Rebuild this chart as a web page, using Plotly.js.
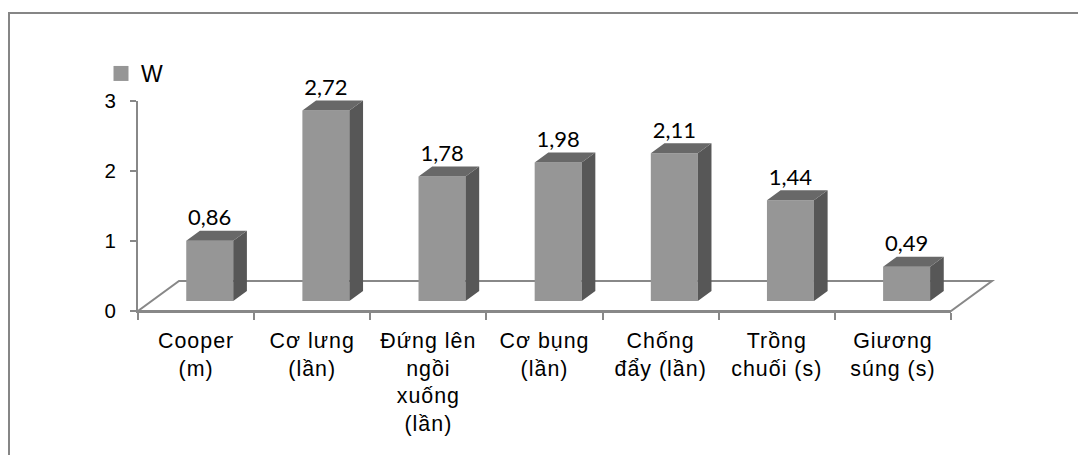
<!DOCTYPE html>
<html>
<head>
<meta charset="utf-8">
<script src="https://cdn.plot.ly/plotly-3.0.1.min.js"></script>
<style>
  html, body { margin: 0; padding: 0; background: #fff; }
  #chart { width: 1078px; height: 455px; }
  .xtick text { letter-spacing: 1px; }
</style>
</head>
<body>
<div id="chart"></div>
<script>
// Test categories and the mean score W for each one
const categories = [
  'Cooper<br>(m)',
  'Cơ lưng<br>(lần)',
  'Đứng lên<br>ngồi<br>xuống<br>(lần)',
  'Cơ bụng<br>(lần)',
  'Chống<br>đẩy (lần)',
  'Trồng<br>chuối (s)',
  'Giương<br>súng (s)'
];
const seriesName = 'W';
const values = [0.86, 2.72, 1.78, 1.98, 2.11, 1.44, 0.49];
const yTicks = [0, 1, 2, 3];

// ---- page geometry (pixels) ----
const W = 1078, H = 455;
const axLeft = 138, axRight = 951;      // front x axis
const yZero = 311, yTop = 101;          // front value axis: 0 .. 3
const nCat = categories.length;
const pxCat = (axRight - axLeft) / nCat;
const pxVal = (yZero - yTop) / 3;
const depthPx = { x: 41, y: 30 };       // floor depth (oblique projection)
const barPx = 47;                       // bar width

// depth in axis units
const DX = depthPx.x / pxCat, DY = depthPx.y / pxVal;
const FX = DX / 3, FY = DY / 3;         // bar front plane
const BX = 2 * DX / 3, BY = 2 * DY / 3; // bar back plane
const BW = barPx / pxCat;

// geometry subplot spans the floor's full depth and the label headroom
const x2End = nCat - 0.5 + (depthPx.x + 6) / pxCat;
const x2RightPx = axLeft + (x2End + 0.5) * pxCat;
const y2Pad = 4;
const y2TopPx = 30;
const y2Max = 3 + (yTop - y2TopPx) / pxVal;

const idx = values.map((_, i) => i);

// top and side faces as closed polygons
const topX = [], topY = [], sideX = [], sideY = [];
idx.forEach(i => {
  const v = values[i];
  const l = i + FX - BW / 2, r = i + FX + BW / 2;
  topX.push(l, r, r - FX + BX, l - FX + BX, l, null);
  topY.push(FY + v, FY + v, BY + v, BY + v, FY + v, null);
  sideX.push(r, r, r - FX + BX, r - FX + BX, r, null);
  sideY.push(FY, FY + v, BY + v, BY, FY, null);
});

const frontColor = '#969696';
const axisGrey = '#888888';
const fontAxis = 'Arial, "Liberation Sans", sans-serif';

const traces = [
  { // anchors the category axis
    type: 'scatter', x: categories, y: values.map(() => 0),
    xaxis: 'x', yaxis: 'y', mode: 'markers',
    marker: { opacity: 0 }, showlegend: false, hoverinfo: 'skip'
  },
  { // front faces
    type: 'bar', x: idx.map(i => i + FX), y: values, base: FY,
    width: BW, xaxis: 'x2', yaxis: 'y2', name: seriesName,
    marker: { color: frontColor, line: { width: 0 } },
    showlegend: false, hoverinfo: 'skip'
  },
  {
    type: 'scatter', x: sideX, y: sideY, xaxis: 'x2', yaxis: 'y2',
    mode: 'lines', fill: 'toself', fillcolor: '#575757',
    line: { width: 0, color: '#575757' }, showlegend: false, hoverinfo: 'skip'
  },
  {
    type: 'scatter', x: topX, y: topY, xaxis: 'x2', yaxis: 'y2',
    mode: 'lines', fill: 'toself', fillcolor: '#686868',
    line: { width: 0, color: '#686868' }, showlegend: false, hoverinfo: 'skip'
  },
  { // value labels
    type: 'scatter', x: idx.map(i => i + FX), y: values.map(v => v + BY),
    customdata: values, texttemplate: '%{customdata:.2f}',
    xaxis: 'x2', yaxis: 'y2', mode: 'text', textposition: 'top center',
    textfont: { family: 'Lato, "Open Sans", sans-serif', size: 22, color: '#000' },
    cliponaxis: false, showlegend: false, hoverinfo: 'skip'
  },
  { // legend key for the series
    type: 'scatter', x: [null], y: [null], xaxis: 'x2', yaxis: 'y2',
    mode: 'markers', name: seriesName,
    marker: { symbol: 'square', size: 15, color: frontColor, line: { width: 0 } },
    showlegend: true, hoverinfo: 'skip'
  }
];

// floor outline (drawn beneath the bars)
const fl = [
  [-0.5, 0], [nCat - 0.5, 0], [nCat - 0.5 + DX, DY], [-0.5 + DX, DY], [-0.5, 0]
];
const floorPath = fl.map((p, k) => (k ? 'L' : 'M') + p[0] + ',' + p[1]).join(' ');

const layout = {
  width: W, height: H,
  margin: { l: 0, r: 0, t: 0, b: 0 },
  paper_bgcolor: '#ffffff',
  plot_bgcolor: 'rgba(0,0,0,0)',
  separators: ', ',
  showlegend: true,
  legend: {
    x: 101 / W, y: 1 - 52 / H, xanchor: 'left', yanchor: 'top',
    font: { family: fontAxis, size: 23, color: '#000' },
    bgcolor: 'rgba(0,0,0,0)'
  },
  xaxis: {
    type: 'category', categoryarray: categories, range: [-0.5, nCat - 0.5],
    domain: [axLeft / W, axRight / W], anchor: 'y',
    showline: true, linecolor: axisGrey, linewidth: 2,
    ticks: 'outside', tickson: 'boundaries', ticklen: 7, tickwidth: 2, tickcolor: axisGrey,
    showgrid: false, zeroline: false, fixedrange: true,
    tickfont: { family: fontAxis, size: 21.4, color: '#000' },
    ticklabelstandoff: 9
  },
  yaxis: {
    range: [0, 3], domain: [(H - yZero) / H, (H - yTop) / H], anchor: 'x',
    tickvals: yTicks, ticktext: yTicks.map(String),
    showline: true, linecolor: axisGrey, linewidth: 2,
    ticks: 'outside', ticklen: 6, tickwidth: 2, tickcolor: axisGrey,
    showgrid: false, zeroline: false, fixedrange: true,
    tickfont: { family: fontAxis, size: 20.5, color: '#000' },
    ticklabelstandoff: 10
  },
  xaxis2: {
    range: [-0.5, x2End], domain: [axLeft / W, x2RightPx / W], anchor: 'y2',
    visible: false, fixedrange: true
  },
  yaxis2: {
    range: [-y2Pad / pxVal, y2Max], domain: [(H - yZero - y2Pad) / H, (H - y2TopPx) / H],
    anchor: 'x2', visible: false, fixedrange: true
  },
  shapes: [
    {
      type: 'path', xref: 'x2', yref: 'y2', layer: 'below',
      path: floorPath, line: { color: axisGrey, width: 2 }
    },
    { // chart area border
      type: 'rect', xref: 'paper', yref: 'paper',
      x0: 9 / W, x1: 1.05, y0: -0.05, y1: 1 - 13 / H,
      line: { color: '#868686', width: 2 }
    }
  ]
};

Plotly.newPlot('chart', traces, layout, { staticPlot: true, displayModeBar: false });
</script>
</body>
</html>
